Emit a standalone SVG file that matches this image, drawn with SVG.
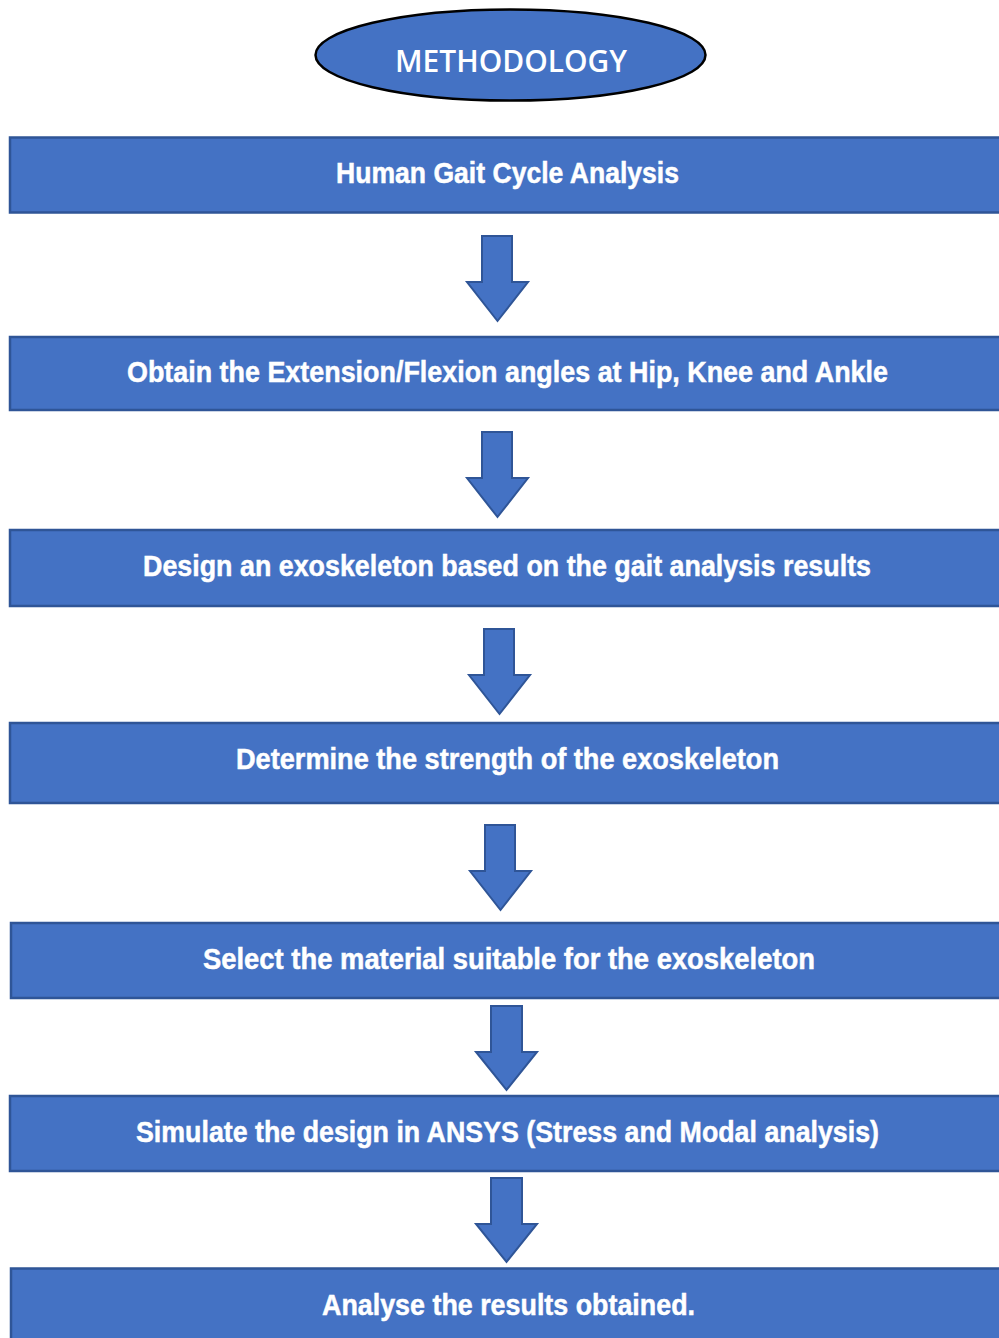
<svg xmlns="http://www.w3.org/2000/svg" width="999" height="1338" viewBox="0 0 999 1338">
<style>
.box{fill:#4472C4;stroke:#2F5597;stroke-width:2.5}
.arr{fill:#4472C4;stroke:#2F5597;stroke-width:2;stroke-linejoin:miter}
.t{font-family:"Liberation Sans",Arial,sans-serif;font-weight:bold;font-size:30px;fill:#fff;stroke:#fff;stroke-width:0.5;text-anchor:middle}
</style>
<rect width="999" height="1338" fill="#fff"/>
<g id="title">
<ellipse cx="510.5" cy="55" rx="195" ry="45.5" fill="#4472C4" stroke="#000" stroke-width="2.5"/>
<text x="511" y="72" font-family="'Open Sans','Liberation Sans',sans-serif" font-weight="600" font-size="30" fill="#fff" text-anchor="middle" textLength="232" lengthAdjust="spacingAndGlyphs">METHODOLOGY</text>
</g>
<g id="n1"><rect class="box" x="10" y="137.5" width="1005" height="75"/><text class="t" x="507.5" y="183" textLength="343" lengthAdjust="spacingAndGlyphs">Human Gait Cycle Analysis</text></g>
<g id="n2"><rect class="box" x="10" y="337" width="1005" height="73"/><text class="t" x="507.5" y="382" textLength="761" lengthAdjust="spacingAndGlyphs">Obtain the Extension/Flexion angles at Hip, Knee and Ankle</text></g>
<g id="n3"><rect class="box" x="10" y="530" width="1005" height="76"/><text class="t" x="507" y="576" textLength="728" lengthAdjust="spacingAndGlyphs">Design an exoskeleton based on the gait analysis results</text></g>
<g id="n4"><rect class="box" x="10" y="723" width="1005" height="80"/><text class="t" x="507.5" y="769" textLength="543" lengthAdjust="spacingAndGlyphs">Determine the strength of the exoskeleton</text></g>
<g id="n5"><rect class="box" x="11" y="923" width="1005" height="75"/><text class="t" x="509" y="969" textLength="612" lengthAdjust="spacingAndGlyphs">Select the material suitable for the exoskeleton</text></g>
<g id="n6"><rect class="box" x="10" y="1096" width="1005" height="75"/><text class="t" x="507.5" y="1142" textLength="743" lengthAdjust="spacingAndGlyphs">Simulate the design in ANSYS (Stress and Modal analysis)</text></g>
<g id="n7"><rect class="box" x="11" y="1268.5" width="1005" height="80"/><text class="t" x="508.5" y="1315" textLength="373" lengthAdjust="spacingAndGlyphs">Analyse the results obtained.</text></g>
<g id="connectors">
<polygon class="arr" points="482,236 512,236 512,282 528,282 497.5,321 467,282 482,282"/>
<polygon class="arr" points="482,432 512,432 512,478 528,478 497.5,517 467,478 482,478"/>
<polygon class="arr" points="484,629 514,629 514,675 530,675 499.5,714 469,675 484,675"/>
<polygon class="arr" points="485,825 515,825 515,871 531,871 500.5,910 470,871 485,871"/>
<polygon class="arr" points="491,1006 522,1006 522,1052 537,1052 506.5,1090 476,1052 491,1052"/>
<polygon class="arr" points="491,1178 522,1178 522,1224 537,1224 506.5,1262 476,1224 491,1224"/>
</g>
</svg>
